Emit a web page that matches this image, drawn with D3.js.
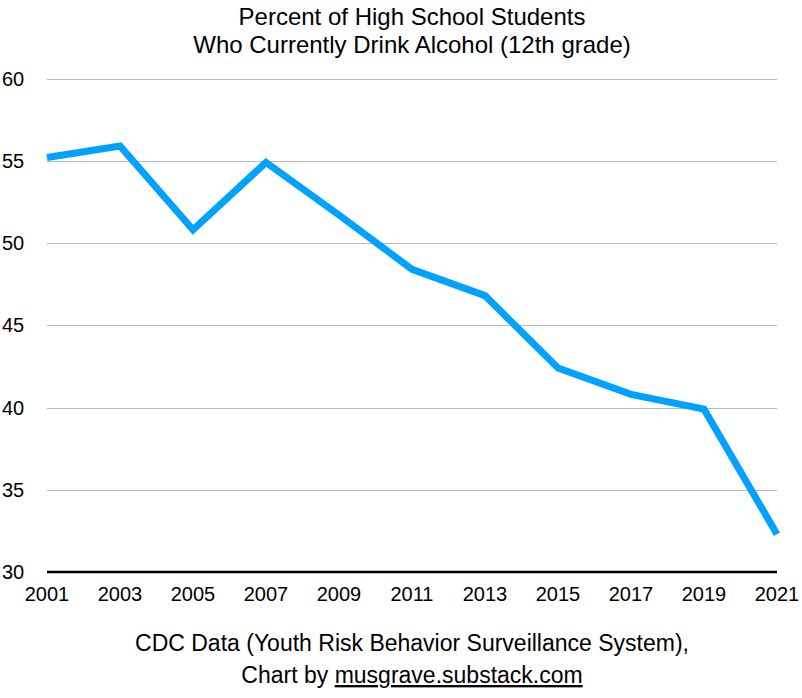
<!DOCTYPE html>
<html><head><meta charset="utf-8">
<script src="https://cdn.jsdelivr.net/npm/d3@7"></script>
<style>body{margin:0;background:#fff}svg{display:block;font-family:"Liberation Sans",Arial,Helvetica,sans-serif}</style>
</head><body>
<script>
const years = [2001,2003,2005,2007,2009,2011,2013,2015,2017,2019,2021];
const values = [55.2,55.9,50.8,54.9,51.7,48.4,46.8,42.4,40.8,39.9,32.3];
const yTicks = [30,35,40,45,50,55,60];
const titleLines = ["Percent of High School Students","Who Currently Drink Alcohol (12th grade)"];
const footerLine1 = "CDC Data (Youth Risk Behavior Surveillance System),";
const footerPrefix = "Chart by ";
const footerLink = "musgrave.substack.com";

const W=802,H=698;
const svg=d3.select("body").append("svg").attr("width",W).attr("height",H);
const x=d3.scaleLinear().domain([2001,2021]).range([47,777]);
const y=d3.scaleLinear().domain([30,60]).range([572,78.5]);

svg.append("g").selectAll("line").data(yTicks.filter(t=>t>30)).join("line")
  .attr("x1",x(2001)).attr("x2",x(2021)).attr("y1",d=>Math.round(y(d))+0.5).attr("y2",d=>Math.round(y(d))+0.5)
  .attr("stroke","#b8b8b8").attr("stroke-width",1);

svg.append("g").selectAll("text").data(yTicks).join("text")
  .attr("x",2).attr("y",d=>y(d)).attr("dy","0.35em")
  .attr("font-size",20).attr("fill","#000").text(d=>d);

svg.append("line").attr("x1",x(2001)).attr("x2",x(2021)).attr("y1",y(30)).attr("y2",y(30))
  .attr("stroke","#000").attr("stroke-width",2.5);

svg.append("g").selectAll("text").data(years).join("text")
  .attr("x",d=>x(d)).attr("y",594).attr("dy","0.35em").attr("text-anchor","middle")
  .attr("font-size",20).attr("fill","#000").text(d=>d);

const line=d3.line().x((d,i)=>x(years[i])).y(d=>y(d));
svg.append("path").datum(values).attr("d",line).attr("fill","none")
  .attr("stroke","#00a2ff").attr("stroke-width",7).attr("stroke-linejoin","miter");

const cx=(x(2001)+x(2021))/2;
svg.append("g").selectAll("text").data(titleLines).join("text")
  .attr("x",cx).attr("y",(d,i)=>17+i*28).attr("dy","0.35em").attr("text-anchor","middle")
  .attr("font-size",24).attr("fill","#000").text(d=>d);

svg.append("text").attr("x",cx).attr("y",643).attr("dy","0.35em").attr("text-anchor","middle")
  .attr("font-size",23).attr("fill","#000").text(footerLine1);
const f2=svg.append("text").attr("x",cx).attr("y",675).attr("dy","0.35em").attr("text-anchor","middle")
  .attr("font-size",23).attr("fill","#000");
f2.append("tspan").text(footerPrefix);
f2.append("tspan").attr("text-decoration","underline").text(footerLink);
</script>
</body></html>
